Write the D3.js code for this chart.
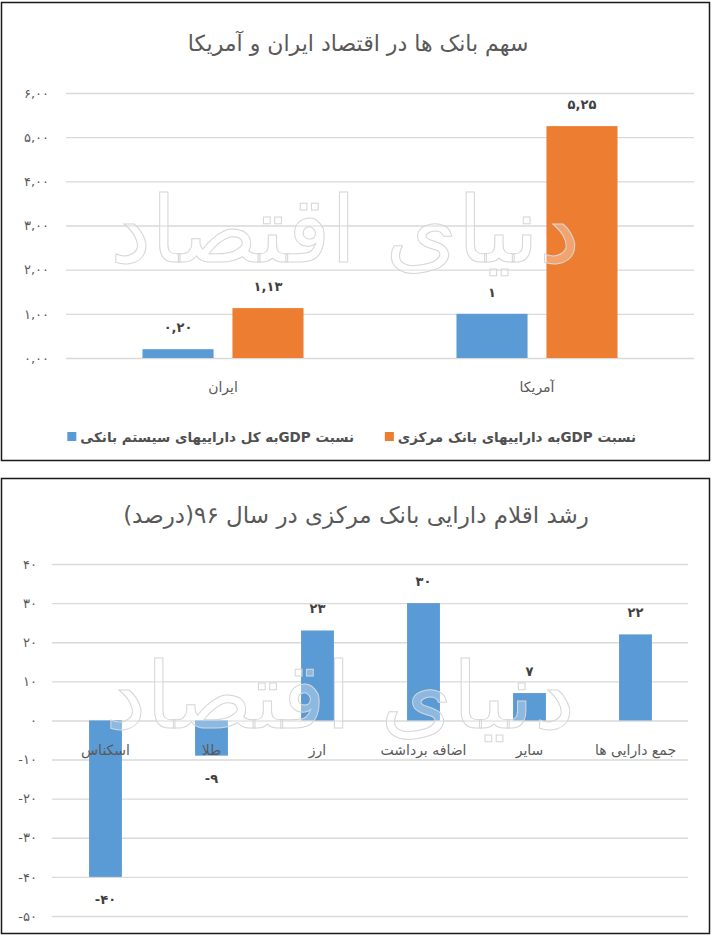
<!DOCTYPE html>
<html>
<head>
<meta charset="utf-8">
<script src="https://cdn.jsdelivr.net/npm/d3@7"></script>
<style>
  body { margin: 0; background: #fff; }
  svg text { font-family: "DejaVu Sans", sans-serif; }
</style>
</head>
<body>
<script>
// chart 1 data
let countries = ["ایران", "آمریکا"];
let seriesNames = ["نسبت  GDPبه کل داراییهای سیستم بانکی", "نسبت  GDPبه داراییهای  بانک مرکزی"];
let bankSystem = [0.20, 1.00];
let centralBank = [1.13, 5.25];
let ticks1 = [0, 1, 2, 3, 4, 5, 6];

// chart 2 data
let items = ["اسکناس", "طلا", "ارز", "اضافه برداشت", "سایر", "جمع دارایی ها"];
let growth = [-40, -9, 23, 30, 7, 22];
let ticks2 = [40, 30, 20, 10, 0, -10, -20, -30, -40, -50];

let colors = ["#5b9bd5", "#ed7d31"];

// persian digits, comma as decimal sign
function fa(s) {
  return String(s).replace(/\d/g, d => "۰۱۲۳۴۵۶۷۸۹"[d]).replace(".", ",");
}

let svg = d3.select("body").append("svg")
  .attr("width", 712)
  .attr("height", 937);

function frame(y, h) {
  svg.append("rect")
    .attr("x", 1.5).attr("y", y)
    .attr("width", 708).attr("height", h)
    .attr("fill", "#fff")
    .attr("stroke", "#1a1a1a")
    .attr("stroke-width", 1.5);
}

// faint outlined logo over the bars
function watermark(cx, cy) {
  svg.append("text")
    .attr("x", cx).attr("y", cy)
    .attr("text-anchor", "middle")
    .attr("font-size", 92)
    .attr("fill", "#fff").attr("fill-opacity", 0.3)
    .attr("stroke", "#d6d6d6").attr("stroke-width", 1)
    .text("دنیای اقتصاد");
}

// ---------- chart 1 ----------
frame(2.5, 458);

svg.append("text")
  .attr("x", 358).attr("y", 51)
  .attr("text-anchor", "middle")
  .attr("font-size", 22)
  .attr("fill", "#595959")
  .text("سهم بانک ها در اقتصاد ایران و آمریکا");

let y1 = d3.scaleLinear().domain([0, 6]).range([358, 93]);
let x1 = d3.scaleBand().domain(countries).range([66, 694]);
let xs1 = d3.scaleBand().domain([0, 1]).range([0, x1.bandwidth()])
  .paddingInner(0.21).paddingOuter(0.85);

let g1 = svg.append("g");
g1.append("g")
  .attr("transform", "translate(66,0)")
  .call(d3.axisLeft(y1).tickValues(ticks1).tickSize(-628).tickPadding(17)
    .tickFormat(d => fa(d.toFixed(2))))
  .call(g => g.select(".domain").remove())
  .call(g => g.selectAll(".tick line").attr("stroke", "#d9d9d9").attr("stroke-width", 1.4))
  .call(g => g.selectAll(".tick text").attr("fill", "#595959").attr("font-size", 13)
    .attr("direction", "ltr").style("font-family", "DejaVu Sans"));

let rows1 = countries.map((c, i) => ({ c: c, vals: [bankSystem[i], centralBank[i]] }));

let groups = g1.selectAll(".grp")
  .data(rows1)
  .enter()
    .append("g")
    .attr("transform", d => "translate(" + x1(d.c) + ",0)");

groups.selectAll("rect")
  .data(d => d.vals.map((v, k) => ({ v: v, k: k })))
  .enter()
    .append("rect")
    .attr("x", d => xs1(d.k))
    .attr("width", xs1.bandwidth())
    .attr("y", d => y1(d.v))
    .attr("height", d => y1(0) - y1(d.v))
    .attr("fill", d => colors[d.k]);

watermark(345, 262);

groups.selectAll(".lbl")
  .data(d => d.vals.map((v, k) => ({ v: v, k: k })))
  .enter()
    .append("text")
    .attr("x", d => xs1(d.k) + xs1.bandwidth() / 2)
    .attr("y", d => y1(d.v) - 17)
    .attr("text-anchor", "middle")
    .attr("direction", "ltr")
    .attr("font-size", 13)
    .attr("font-weight", "bold")
    .attr("letter-spacing", 2)
    .attr("fill", "#404040")
    .text(d => fa(Number.isInteger(d.v) ? d.v : d.v.toFixed(2)));

g1.selectAll(".cat")
  .data(countries)
  .enter()
    .append("text")
    .attr("x", d => x1(d) + x1.bandwidth() / 2)
    .attr("y", 392)
    .attr("text-anchor", "middle")
    .attr("font-size", 14)
    .attr("fill", "#595959")
    .text(d => d);

// legend
let legendRight = [354, 636];
seriesNames.forEach((s, i) => {
  let t = svg.append("text")
    .attr("x", legendRight[i]).attr("y", 442)
    .attr("direction", "rtl")
    .attr("text-anchor", "start")
    .attr("font-size", 13.5)
    .attr("font-weight", "bold")
    .attr("fill", "#505050")
    .text(s);
  let w = t.node().getComputedTextLength();
  svg.append("rect")
    .attr("x", legendRight[i] - w - 13).attr("y", 432)
    .attr("width", 9).attr("height", 9)
    .attr("fill", colors[i]);
});

// ---------- chart 2 ----------
frame(478.5, 455);

svg.append("text")
  .attr("x", 356).attr("y", 523)
  .attr("text-anchor", "middle")
  .attr("font-size", 23)
  .attr("fill", "#595959")
  .text("رشد اقلام دارایی بانک مرکزی در سال ۹۶(درصد)");

let y2 = d3.scaleLinear().domain([-50, 40]).range([916, 564]);
let x2 = d3.scaleBand().domain(items).range([52.5, 688.5])
  .paddingInner(0.69).paddingOuter(0.345);

let g2 = svg.append("g");
g2.append("g")
  .attr("transform", "translate(52,0)")
  .call(d3.axisLeft(y2).tickValues(ticks2).tickSize(-636).tickPadding(15)
    .tickFormat(d => fa(d)))
  .call(g => g.select(".domain").remove())
  .call(g => g.selectAll(".tick line").attr("stroke", "#d9d9d9").attr("stroke-width", 1.4))
  .call(g => g.selectAll(".tick text").attr("fill", "#595959").attr("font-size", 13)
    .attr("direction", "ltr").style("font-family", "DejaVu Sans"));

g2.selectAll(".bar")
  .data(items)
  .enter()
    .append("rect")
    .attr("x", d => x2(d))
    .attr("width", x2.bandwidth())
    .attr("y", (d, i) => y2(Math.max(0, growth[i])))
    .attr("height", (d, i) => Math.abs(y2(growth[i]) - y2(0)))
    .attr("fill", colors[0]);

watermark(340, 728);

g2.selectAll(".val")
  .data(items)
  .enter()
    .append("text")
    .attr("x", d => x2(d) + x2.bandwidth() / 2)
    .attr("y", (d, i) => growth[i] >= 0 ? y2(growth[i]) - 17 : y2(growth[i]) + 27)
    .attr("text-anchor", "middle")
    .attr("direction", "ltr")
    .attr("font-size", 13)
    .attr("font-weight", "bold")
    .attr("letter-spacing", 2)
    .attr("fill", "#404040")
    .text((d, i) => fa(growth[i]));

g2.selectAll(".cat")
  .data(items)
  .enter()
    .append("text")
    .attr("x", d => x2(d) + x2.bandwidth() / 2)
    .attr("y", 755)
    .attr("text-anchor", "middle")
    .attr("font-size", 14)
    .attr("fill", "#595959")
    .text(d => d);
</script>
</body>
</html>
